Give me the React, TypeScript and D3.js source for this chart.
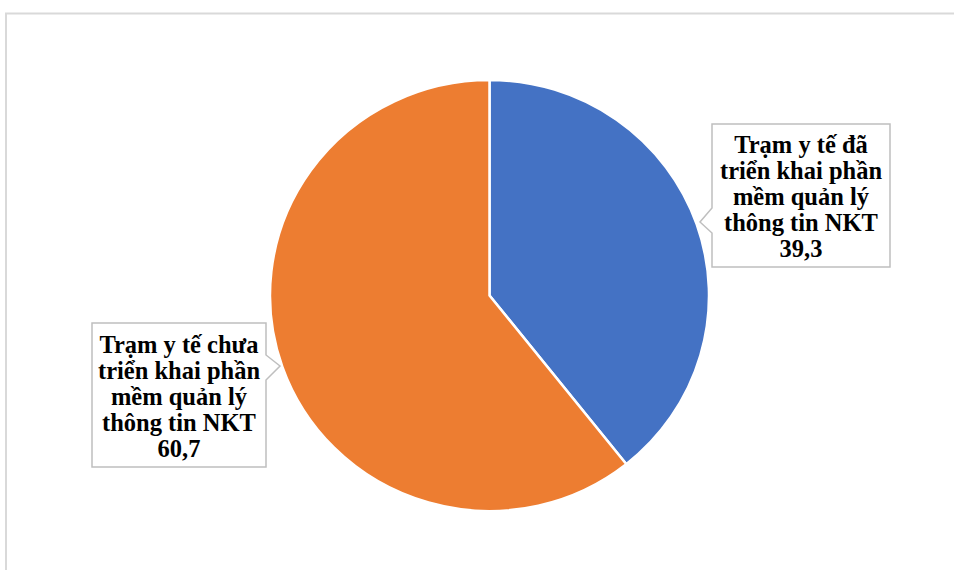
import React from "react";
import * as d3 from "d3";

const categories = [
  "Trạm y tế đã triển khai phần mềm quản lý thông tin NKT",
  "Trạm y tế chưa triển khai phần mềm quản lý thông tin NKT",
];
const labelLines = [
  ["Trạm y tế đã", "triển khai phần", "mềm quản lý", "thông tin NKT"],
  ["Trạm y tế chưa", "triển khai phần", "mềm quản lý", "thông tin NKT"],
];
const values = [39.3, 60.7];
const valueLabels = ["39,3", "60,7"];
const colors = ["#4472C4", "#ED7D31"];

const W = 954;
const H = 570;
const cx = 489.5;
const cy = 295.5;
const R = 219.5;
const sy = 215.5 / 219.5;

// callout boxes: x0, y0, x1, y1, pointer side, pointer y0, y1, tip x, tip y
const boxes = [
  { x0: 712, y0: 124, x1: 890, y1: 267, side: "left", p0: 208, p1: 233, tx: 700, ty: 222 },
  { x0: 92, y0: 323, x1: 266, y1: 467, side: "right", p0: 355, p1: 380, tx: 280, ty: 366 },
];

function calloutPath(b: any) {
  if (b.side === "left") {
    return `M${b.x0},${b.y0}H${b.x1}V${b.y1}H${b.x0}V${b.p1}L${b.tx},${b.ty}L${b.x0},${b.p0}Z`;
  }
  return `M${b.x0},${b.y0}H${b.x1}V${b.p0}L${b.tx},${b.ty}L${b.x1},${b.p1}V${b.y1}H${b.x0}Z`;
}

export default function App() {
  const pie = d3.pie<number>().sort(null).value((d) => d);
  const arcs = pie(values);
  const arc = d3.arc<d3.PieArcDatum<number>>().innerRadius(0).outerRadius(R);
  const lineH = 26;
  return (
    <svg width={W} height={H} style={{ position: "absolute", left: 0, top: 0, background: "#fff" }}>
      <rect x={0} y={0} width={W} height={H} fill="#fff" />
      <path d={`M6,${H}V13.5H${W}`} fill="none" stroke="#d9d9d9" strokeWidth={2} />
      <g transform={`translate(${cx},${cy}) scale(1,${sy})`}>
        {arcs.map((a, i) => (
          <path key={i} d={arc(a) || ""} fill={colors[i]} stroke="#fff" strokeWidth={2.5} strokeLinejoin="round">
            <title>{categories[i]}</title>
          </path>
        ))}
      </g>
      {boxes.map((b, i) => {
        const lines = [...labelLines[i], valueLabels[i]];
        const mx = (b.x0 + b.x1) / 2;
        const my = (b.y0 + b.y1) / 2;
        const start = my - ((lines.length - 1) / 2) * lineH + 9.5;
        return (
          <g key={i}>
            <path d={calloutPath(b)} fill="#fff" stroke="#bfbfbf" strokeWidth={1.5} />
            <text
              textAnchor="middle"
              fontFamily="'Liberation Serif', 'Times New Roman', serif"
              fontWeight="bold"
              fontSize={24.5}
              fill="#000"
            >
              {lines.map((l, j) => (
                <tspan key={j} x={mx} y={start + j * lineH}>
                  {l}
                </tspan>
              ))}
            </text>
          </g>
        );
      })}
    </svg>
  );
}
